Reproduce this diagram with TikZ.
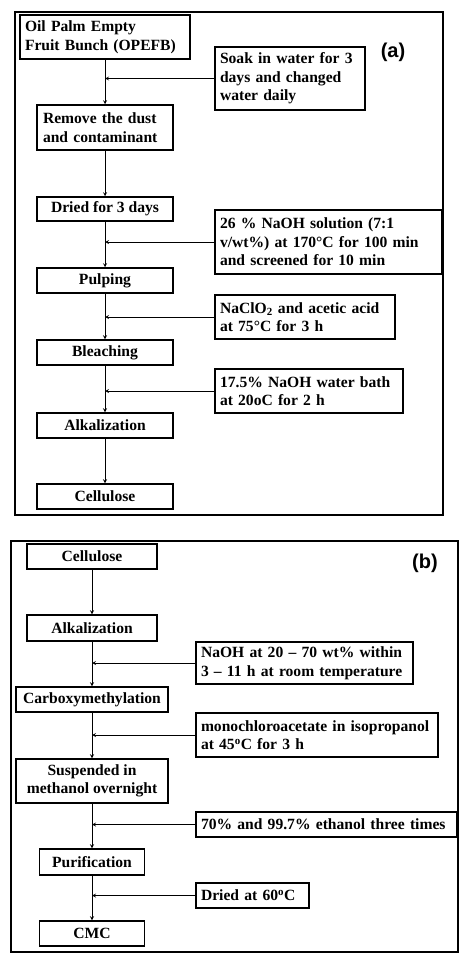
\documentclass[tikz,border=0pt]{standalone}
\usepackage{fontspec}
\setmainfont{Liberation Serif}
\newfontfamily\panelfont{Liberation Sans}
\usetikzlibrary{positioning}
\tikzset{
     stepnode/.style={draw, line width=1.5pt, font=\bfseries\fontsize{15.6}{18.5}\selectfont,
        align=center, inner sep=2pt, minimum height=25pt},
      condnode/.style   = {draw, line width=1.5pt, font=\bfseries\fontsize{15.6}{18.5}\selectfont,
        align=left, inner xsep=6pt, inner ysep=2pt, minimum height=25pt},
      flowedge/.style = { black, ->, >=stealth, line width=0.8pt},
      panelframe/.style = { draw, line width=1.2pt},
      panellabel/.style = { font=\panelfont\bfseries\fontsize{20}{20}\selectfont},
    }

\begin{document}
\begin{tikzpicture}[x=1pt, y=-1pt]
        \useasboundingbox (0,0) rectangle (474,966);
        % panel (a)
        \draw [panelframe] (15,12) rectangle (443,515);
        \node [panellabel] (la) at (393,52) {(a)};
        \node [stepnode, text width=160pt, align=left, inner xsep=5pt, minimum height=44pt] (opefb) at (105,37)
              {Oil Palm Empty\\Fruit Bunch (OPEFB)};
        \node [condnode, text width=140pt, inner xsep=5pt, minimum height=63pt] (soak) at (290,78.5)
              {Soak in water for 3\\days and changed\\water daily};
        \node [stepnode, text width=124pt, align=left, inner xsep=6pt, minimum height=45pt] (dust) at (105,127.5)
              {Remove the dust\\and contaminant};
        \node [stepnode, minimum width=136pt, minimum height=24pt] (dried) at (105,209) {Dried for 3 days};
        \node [condnode, text width=217pt, inner xsep=5pt, minimum height=64pt] (soda) at (328.5,242)
              {26 \% NaOH solution (7:1\\v/wt\%) at 170°C for 100 min\\and screened for 10 min};
        \node [stepnode, minimum width=136pt] (pulp) at (105,280.5) {Pulping};
        \node [condnode, text width=170pt, inner xsep=5pt, minimum height=44pt] (chlorite) at (305,317)
              {NaClO\textsubscript{2} and acetic acid\\at 75°C for 3 h};
        \node [stepnode, minimum width=136pt] (bleach) at (105,352.5) {Bleaching};
        \node [condnode, text width=178pt, inner xsep=5pt, minimum height=44pt] (bath) at (309,391)
              {17.5\% NaOH water bath\\at 20oC for 2 h};
        \node [stepnode, minimum width=136pt] (alka) at (105,425.5) {Alkalization};
        \node [stepnode, minimum width=136pt] (cella) at (105,496.5) {Cellulose};
        \coordinate (ja1) at (soak.west -| opefb.south);
        \coordinate (ja2) at (soda.west -| opefb.south);
        \coordinate (ja3) at (chlorite.west -| opefb.south);
        \coordinate (ja4) at (bath.west -| opefb.south);
        \path [flowedge]
        (opefb) edge (dust)
        (dust) edge (dried)
        (dried) edge (pulp)
        (pulp) edge (bleach)
        (bleach) edge (alka)
        (alka) edge (cella)
        (soak) edge (ja1)
        (soda) edge (ja2)
        (chlorite) edge (ja3)
        (bath) edge (ja4);
        % panel (b)
        \draw [panelframe] (11,541) rectangle (458,952);
        \node [panellabel] (lb) at (425,563) {(b)};
        \node [stepnode, minimum width=130pt] (cellb) at (92,556.5) {Cellulose};
        \node [stepnode, minimum width=130pt, minimum height=26pt] (alkb) at (92,628) {Alkalization};
        \node [condnode, text width=207pt, minimum height=42pt, inner xsep=5pt] (sodab) at (304.5,663)
              {NaOH at 20 -- 70 wt\% within\\3 -- 11 h at room temperature};
        \node [stepnode, minimum width=152pt] (carb) at (92,699.5) {Carboxymethylation};
        \node [condnode, text width=232pt, minimum height=44pt, inner xsep=5pt] (mca) at (317,735)
              {monochloroacetate in isopropanol\\at 45\textsuperscript{o}C for 3 h};
        \node [stepnode, minimum width=152pt, minimum height=44pt] (susp) at (92,781)
              {Suspended in\\methanol overnight};
        \node [condnode, text width=251pt, inner xsep=5pt] (etoh) at (326.5,824.5)
              {70\% and 99.7\% ethanol three times};
        \node [stepnode, minimum width=105pt, minimum height=26pt] (purif) at (92,862) {Purification};
        \node [condnode, text width=103pt, inner xsep=5pt] (dry) at (252.5,895.5)
              {Dried at 60\textsuperscript{o}C};
        \node [stepnode, minimum width=105pt] (cmc) at (92,933.5) {CMC};
        \coordinate (jb1) at (sodab.west -| cellb.south);
        \coordinate (jb2) at (mca.west -| cellb.south);
        \coordinate (jb3) at (etoh.west -| cellb.south);
        \coordinate (jb4) at (dry.west -| cellb.south);
        \path [flowedge]
        (cellb) edge (alkb)
        (alkb) edge (carb)
        (carb) edge (susp)
        (susp) edge (purif)
        (purif) edge (cmc)
        (sodab) edge (jb1)
        (mca) edge (jb2)
        (etoh) edge (jb3)
        (dry) edge (jb4);
    \end{tikzpicture}
\end{document}
